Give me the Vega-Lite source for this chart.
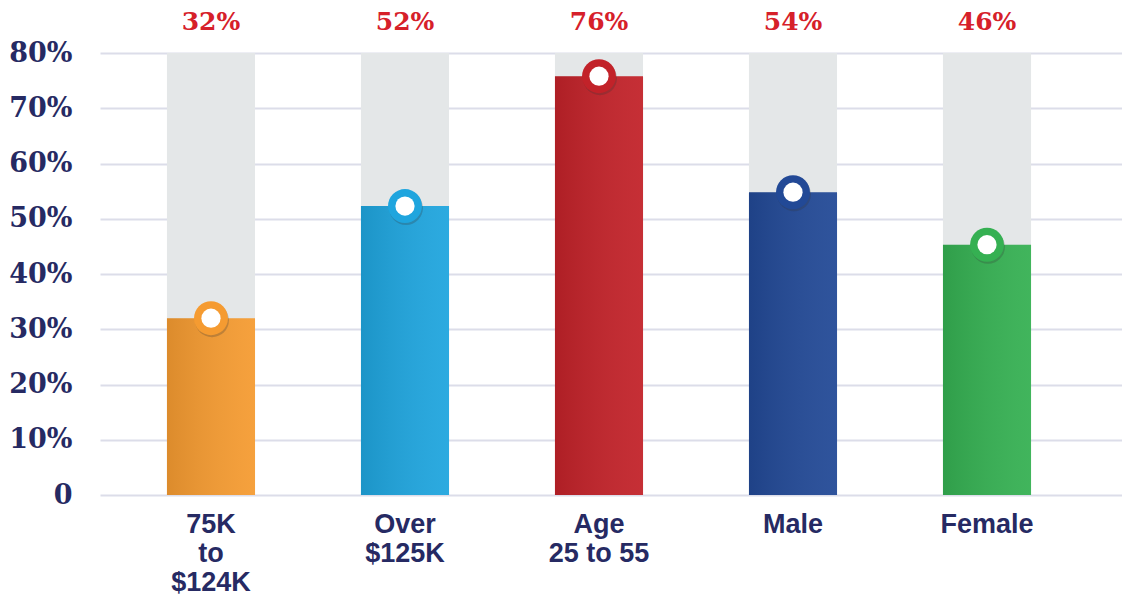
{
  "$schema": "https://vega.github.io/schema/vega-lite/v6.json",
  "width": 1022,
  "height": 442,
  "autosize": {"type": "none"},
  "padding": {"left": 100, "top": 53, "right": 0, "bottom": 102},
  "background": "white",
  "config": {
    "view": {"stroke": null},
    "axis": {"domain": false, "ticks": false, "title": null}
  },
  "data": {
    "values": [
      {"cat": "75K|to|$124K", "value": 32, "label": "32%"},
      {"cat": "Over|$125K", "value": 52.3, "label": "52%"},
      {"cat": "Age|25 to 55", "value": 75.8, "label": "76%"},
      {"cat": "Male", "value": 54.8, "label": "54%"},
      {"cat": "Female", "value": 45.3, "label": "46%"}
    ]
  },
  "encoding": {
    "x": {
      "field": "cat",
      "type": "nominal",
      "sort": null,
      "scale": {"paddingInner": 0.546, "paddingOuter": 0.407, "align": 0.424},
      "axis": {
        "labelAngle": 0,
        "labelExpr": "split(datum.label, '|')",
        "labelFont": "Liberation Sans",
        "labelFontWeight": "bold",
        "labelFontSize": 27,
        "labelColor": "#262a63",
        "labelPadding": 16,
        "labelBaseline": "top",
        "labelLineHeight": 29,
        "grid": false
      }
    }
  },
  "layer": [
    {
      "mark": {"type": "bar", "color": "#e4e7e8"},
      "encoding": {
        "y": {
          "datum": 80,
          "type": "quantitative",
          "scale": {"domain": [0, 80], "nice": false},
          "axis": {
            "values": [0, 10, 20, 30, 40, 50, 60, 70, 80],
            "grid": true,
            "gridColor": "#dcdde9",
            "gridWidth": 2,
            "labelExpr": "datum.value == 0 ? '0' : datum.value + '%'",
            "labelFont": "DejaVu Serif",
            "labelFontWeight": "bold",
            "labelFontSize": 27,
            "labelColor": "#262a63",
            "labelPadding": 28
          }
        }
      }
    },
    {
      "mark": {"type": "bar"},
      "encoding": {
        "y": {"field": "value", "type": "quantitative"},
        "color": {
          "field": "cat",
          "type": "nominal",
          "sort": null,
          "scale": {
            "domain": ["75K|to|$124K", "Over|$125K", "Age|25 to 55", "Male", "Female"],
            "range": ["#f59b31", "#1fa5de", "#c22229", "#224996", "#35b052"]
          },
          "legend": null
        }
      }
    },
    {
      "mark": {
        "type": "bar",
        "color": {
          "gradient": "linear",
          "x1": 0, "x2": 1, "y1": 0, "y2": 0,
          "stops": [
            {"offset": 0, "color": "rgba(0,0,0,0.10)"},
            {"offset": 1, "color": "rgba(255,255,255,0.06)"}
          ]
        }
      },
      "encoding": {
        "y": {"field": "value", "type": "quantitative"}
      }
    },
    {
      "mark": {"type": "point", "filled": true, "opacity": 0.25, "size": 1150, "color": "#333333", "yOffset": 2, "xOffset": 1},
      "encoding": {
        "y": {"field": "value", "type": "quantitative"}
      }
    },
    {
      "mark": {"type": "point", "filled": true, "opacity": 1, "size": 1150},
      "encoding": {
        "y": {"field": "value", "type": "quantitative"},
        "color": {"field": "cat", "type": "nominal", "sort": null, "legend": null}
      }
    },
    {
      "mark": {"type": "point", "filled": true, "opacity": 1, "size": 370, "color": "white"},
      "encoding": {
        "y": {"field": "value", "type": "quantitative"}
      }
    },
    {
      "mark": {
        "type": "text",
        "font": "DejaVu Serif",
        "fontWeight": "bold",
        "fontSize": 25,
        "color": "#d6202a",
        "baseline": "middle",
        "dy": -31
      },
      "encoding": {
        "y": {"datum": 80, "type": "quantitative"},
        "text": {"field": "label"}
      }
    }
  ]
}
